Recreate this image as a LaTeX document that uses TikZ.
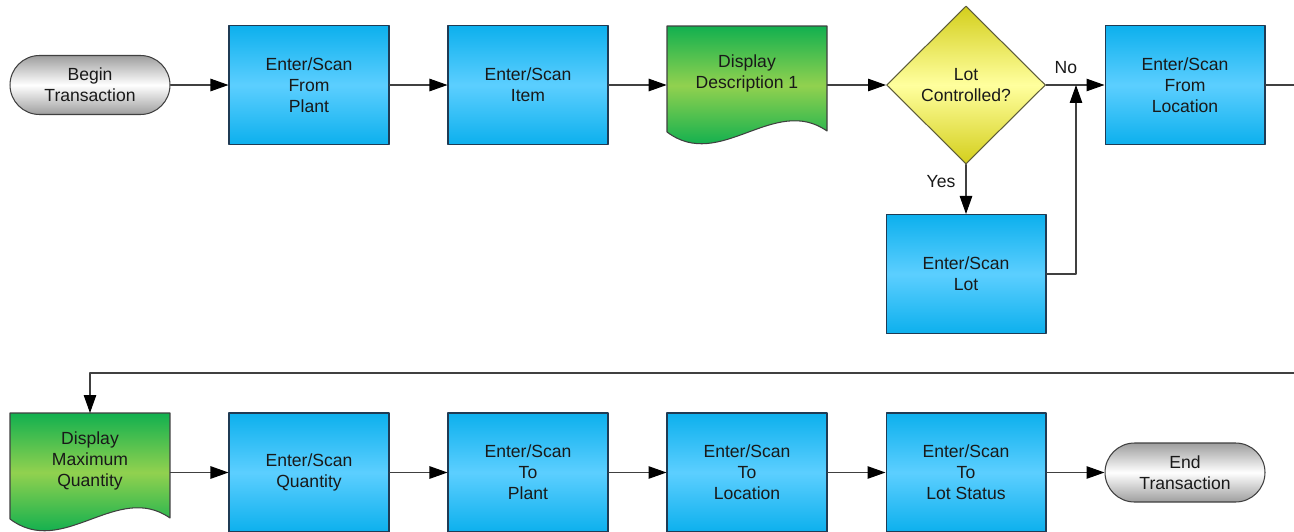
\documentclass[tikz,border=0pt]{standalone}
\usepackage{fontspec}
\setmainfont{Liberation Sans}
\usepackage{tikz}
\usetikzlibrary{arrows.meta}
\usetikzlibrary{shapes.geometric}
\definecolor{qqaaee}{rgb}{0.05,0.69,0.93}
\definecolor{uuccff}{rgb}{0.36,0.81,1.}
\definecolor{qqbbuu}{rgb}{0.07,0.69,0.31}
\definecolor{ttddtt}{rgb}{0.57,0.82,0.31}
\definecolor{ddddqq}{rgb}{0.83,0.81,0.11}
\definecolor{ffffaa}{rgb}{1.,1.,0.62}
\definecolor{aaaaaa}{rgb}{0.62,0.62,0.62}
\definecolor{zzzzzz}{rgb}{0.25,0.25,0.25}
\definecolor{zzzzuu}{rgb}{0.12,0.23,0.33}
\tikzstyle{every node}=[font=\fontsize{10}{11.9}\selectfont,text=black!90,align=center]
\tikzset{
  stepbox/.style={rectangle,draw=zzzzuu,line width=0.6pt,minimum width=3.2cm,minimum height=2.38cm,inner sep=0pt,
    top color=qqaaee,bottom color=qqaaee,middle color=uuccff},
  termbox/.style={rectangle,rounded corners=0.59cm,draw=zzzzzz,line width=0.6pt,minimum width=3.2cm,minimum height=1.18cm,inner sep=0pt,
    top color=aaaaaa,bottom color=aaaaaa,middle color=white},
  decbox/.style={diamond,draw=zzzzzz!80!ddddqq,line width=0.6pt,minimum width=3.18cm,minimum height=3.16cm,inner sep=0pt,
    top color=ddddqq,bottom color=ddddqq,middle color=ffffaa},
  doctext/.style={anchor=north,minimum width=3.2cm,minimum height=1.9cm,inner sep=0pt},
  pics/docshape/.style={code={
    \begin{scope}
    \clip (0,0) -- (160,0) -- (160,105) .. controls (107,68) and (53,146) .. (0,106) -- cycle;
    \shade[top color=qqbbuu,bottom color=qqbbuu,middle color=ttddtt] (0,0) rectangle (160,119);
    \end{scope}
    \draw[draw=zzzzzz,line width=0.6pt] (0,0) -- (160,0) -- (160,105) .. controls (107,68) and (53,146) .. (0,106) -- cycle;}}
}
\begin{document}
\begin{tikzpicture}[line cap=round,line join=round,>={Triangle[length=0.36cm,width=0.25cm,black]},x=0.02cm,y=-0.02cm]
\clip(0,0) rectangle (1294,531);
\useasboundingbox (0,0) rectangle (1294,531);
% top row
\node[termbox] (begin) at (90,85) {Begin\\Transaction};
\node[stepbox] (fromplant) at (309,85) {Enter/Scan\\From\\Plant};
\node[stepbox] (item) at (528,85) {Enter/Scan\\Item};
\pic at (667,26) {docshape};
\node[doctext] (disp1) at (747,26) {Display\\Description 1};
\node[decbox] (lotq) at (966,85) {Lot\\Controlled?};
\node[stepbox] (fromloc) at (1185,85) {Enter/Scan\\From\\Location};
\node[stepbox] (lot) at (966,274) {Enter/Scan\\Lot};
\coordinate (join) at (1076,85);
\coordinate (edgeA) at (1300,85);
\coordinate (edgeB) at (1300,373);
% bottom row
\pic at (10,413) {docshape};
\node[doctext] (dispmax) at (90,413) {Display\\Maximum\\Quantity};
\node[stepbox] (qty) at (309,472.5) {Enter/Scan\\Quantity};
\node[stepbox] (toplant) at (528,472.5) {Enter/Scan\\To\\Plant};
\node[stepbox] (toloc) at (747,472.5) {Enter/Scan\\To\\Location};
\node[stepbox] (tostatus) at (966,472.5) {Enter/Scan\\To\\Lot Status};
\node[termbox] (end) at (1185,472.5) {End\\Transaction};
% connectors
\begin{scope}[draw=zzzzzz,line width=0.6pt]
\draw[->] (begin) -- (fromplant);
\draw[->] (fromplant) -- (item);
\draw[->] (item.east) -- (item.east -| disp1.west);
\draw[->] (item.east -| disp1.east) -- (lotq.west);
\draw[->] (lotq.east) -- (fromloc.west) node[pos=0.34,yshift=0.34cm] {No};
\draw[->] (lotq.south) -- (lot.north) node[pos=0.34,xshift=-0.5cm] {Yes};
\draw[->] (lot.east) -| (join);
\draw (fromloc.east) -- (edgeA);
\draw[->] (edgeB) -| (dispmax.north);
\draw[->] (qty.west -| dispmax.east) -- (qty.west);
\draw[->] (qty) -- (toplant);
\draw[->] (toplant) -- (toloc);
\draw[->] (toloc) -- (tostatus);
\draw[->] (tostatus) -- (end);
\end{scope}
\end{tikzpicture}
\end{document}
